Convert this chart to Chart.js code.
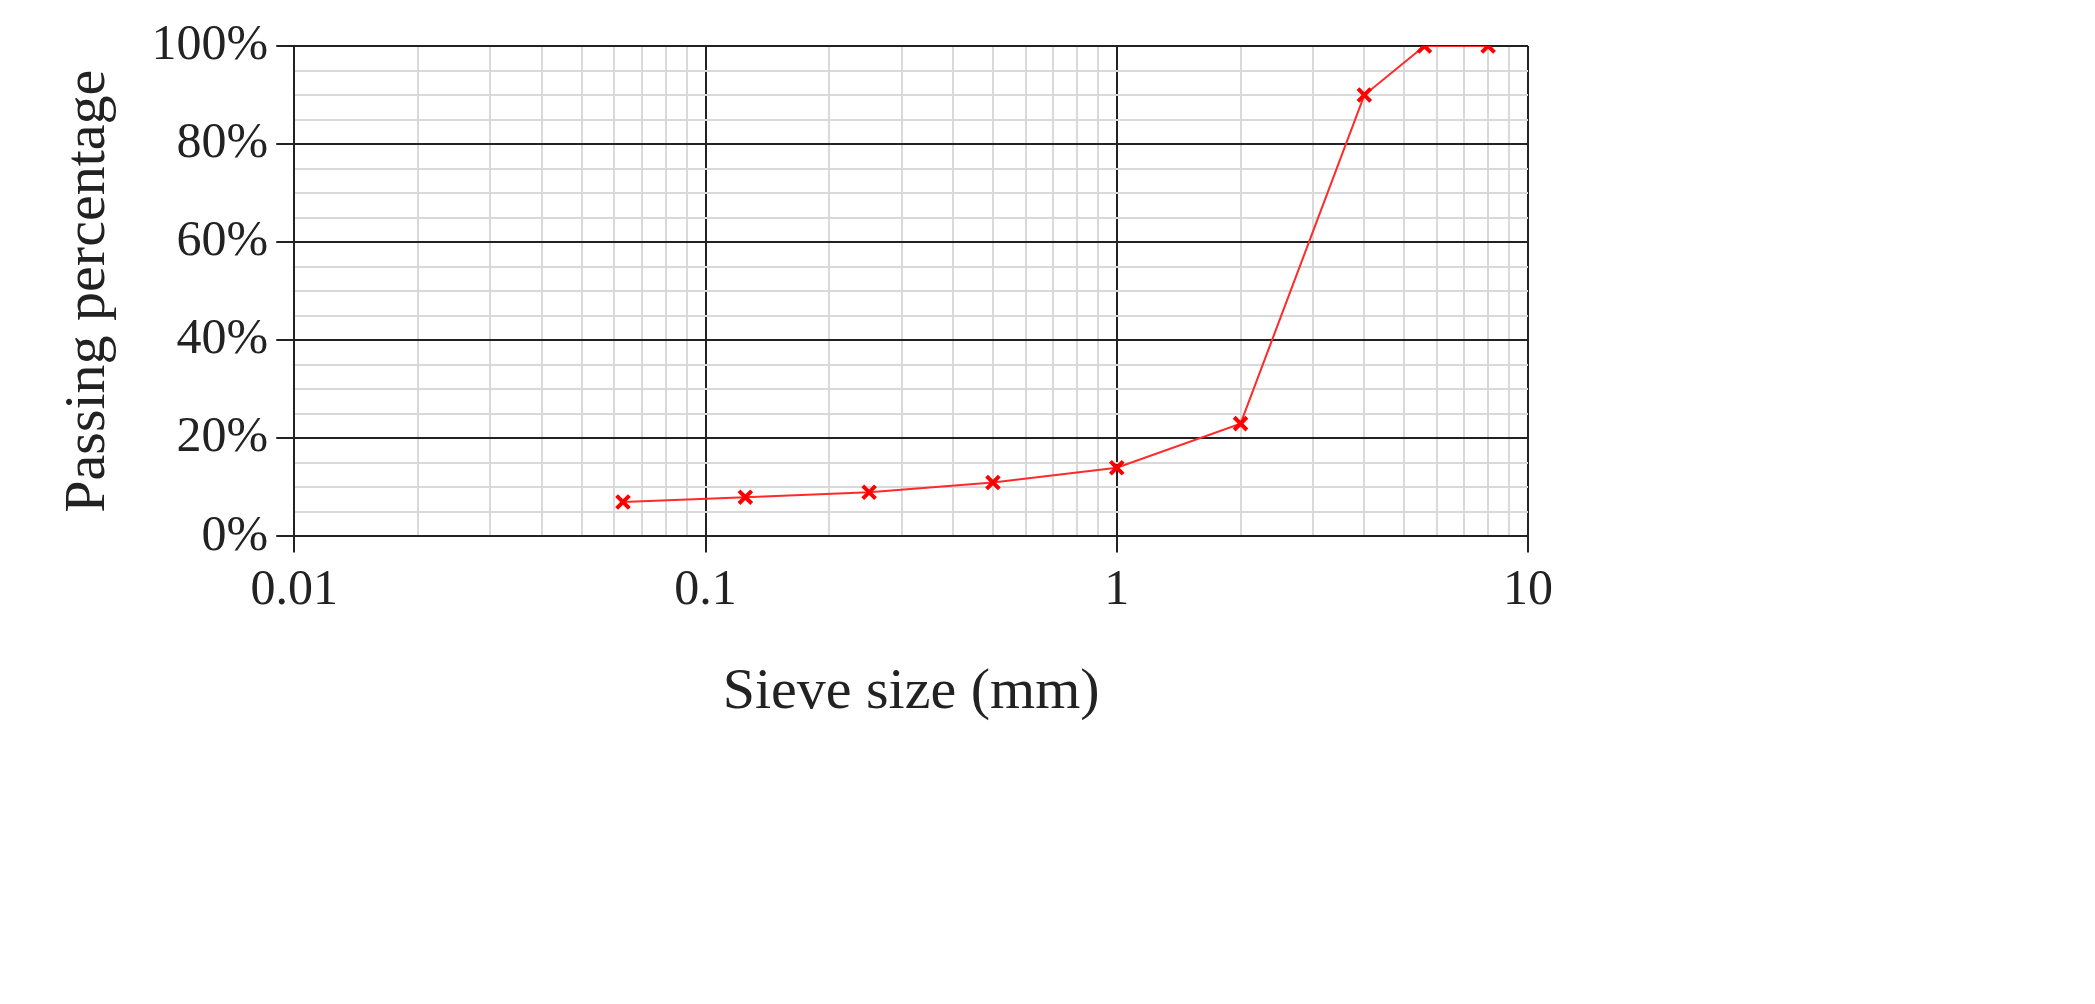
<!DOCTYPE html>
<html>
<head>
<meta charset="utf-8">
<script src="https://cdn.jsdelivr.net/npm/chart.js@4"></script>
<style>
  html, body { margin: 0; padding: 0; background: #fff; }
  #wrap { width: 2095px; height: 1004px; }
</style>
</head>
<body>
<div id="wrap"><canvas id="myChart"></canvas></div>
<script>
const sieveSizes = [0.063, 0.125, 0.25, 0.5, 1, 2, 4, 5.6, 8];
const passing = [7, 8, 9, 11, 14, 23, 90, 100, 100];
const xTickValues = [];
[0.01, 0.1, 1].forEach(function (d) {
    for (let k = 1; k <= 9; k++) xTickValues.push(+(d * k).toFixed(3));
});
xTickValues.push(10);
const xLabels = { 0.01: '0.01', 0.1: '0.1', 1: '1', 10: '10' };

function isPow10(v) {
    return [0.01, 0.1, 1, 10].some(p => Math.abs(v - p) < 1e-9);
}

const points = sieveSizes.map((s, i) => ({ x: s, y: passing[i] }));
const font = { family: 'Liberation Serif', size: 50 };

const ctx = document.getElementById('myChart').getContext('2d');
const myChart = new Chart(ctx, {
    type: 'scatter',
    data: {
        datasets: [{
            data: points,
            showLine: true,
            borderColor: '#ff2a2a',
            borderWidth: 2,
            pointStyle: 'crossRot',
            pointRadius: 9,
            pointBorderWidth: 4,
            pointBorderColor: '#ff0000',
            tension: 0
        }]
    },
    options: {
        responsive: true,
        maintainAspectRatio: false,
        animation: false,
        layout: { padding: { top: 46, right: 567, left: 50, bottom: 272 } },
        plugins: { legend: { display: false }, tooltip: { enabled: false } },
        scales: {
            x: {
                type: 'logarithmic',
                min: 0.01,
                max: 10,
                afterBuildTicks: function (axis) {
                    axis.ticks = xTickValues.map(v => ({ value: v }));
                },
                border: { color: '#222', width: 2 },
                grid: {
                    color: c => isPow10(c.tick.value) ? '#222' : '#d9d9d9',
                    lineWidth: 2,
                    tickColor: c => isPow10(c.tick.value) ? '#222' : 'rgba(0,0,0,0)',
                    tickLength: 16
                },
                ticks: {
                    autoSkip: false,
                    maxRotation: 0,
                    color: '#222',
                    font: font,
                    padding: 8,
                    callback: function (v) { return isPow10(v) ? xLabels[+v] || String(v) : ''; }
                },
                title: { display: true, text: 'Sieve size (mm)', color: '#222',
                    font: { family: 'Liberation Serif', size: 58 }, padding: { top: 30 } }
            },
            y: {
                min: 0,
                max: 100,
                border: { color: '#222', width: 2 },
                grid: {
                    color: c => c.tick.value % 20 === 0 ? '#222' : '#d9d9d9',
                    lineWidth: 2,
                    tickColor: c => c.tick.value % 20 === 0 ? '#222' : 'rgba(0,0,0,0)',
                    tickLength: 18
                },
                ticks: {
                    stepSize: 5,
                    autoSkip: false,
                    color: '#222',
                    font: font,
                    padding: 8,
                    callback: function (v) { return v % 20 === 0 ? v + '%' : ''; }
                },
                title: { display: true, text: 'Passing percentage', color: '#222',
                    font: { family: 'Liberation Serif', size: 58 }, padding: { bottom: 20 } }
            }
        }
    }
});
</script>
</body>
</html>
